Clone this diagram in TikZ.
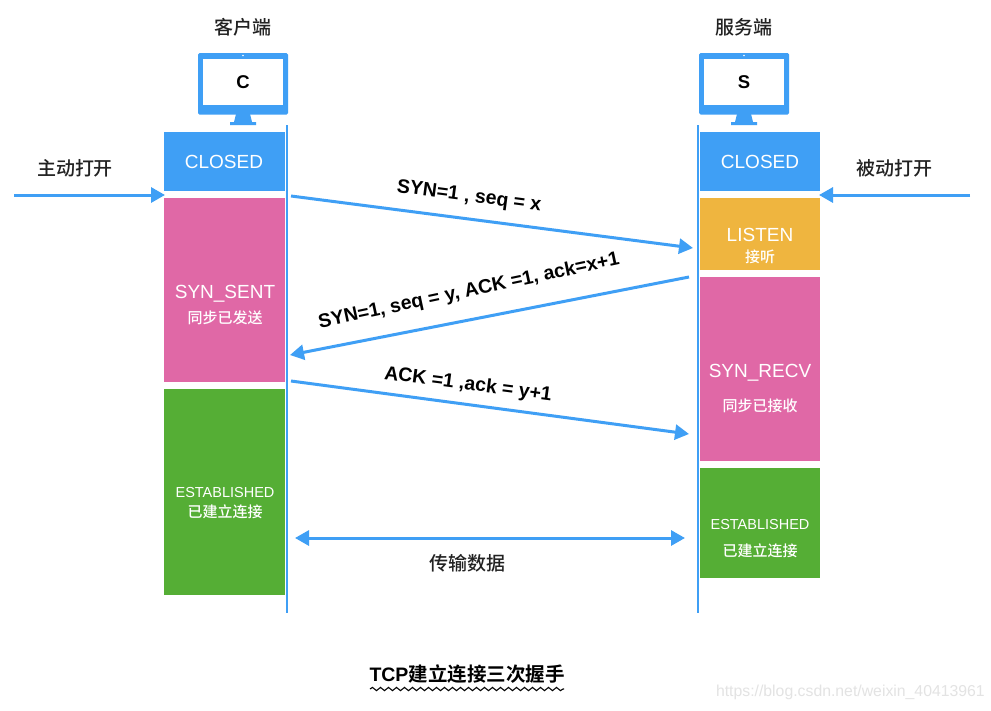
\documentclass[tikz,border=0pt]{standalone}
\usepackage{fontspec}
\setmainfont{Liberation Sans}
\newfontfamily\cjk{Noto Sans CJK SC Medium}
\newfontfamily\cjkb{Noto Sans CJK SC Bold}
\usetikzlibrary{arrows.meta,decorations.pathmorphing}
\definecolor{cblue}{HTML}{3F9FF5}
\definecolor{cpink}{HTML}{E068A6}
\definecolor{cgreen}{HTML}{55AE35}
\definecolor{cyellow}{HTML}{EFB53F}
\definecolor{ctext}{HTML}{222222}
\tikzset{
  tip/.tip={Triangle[length=14pt,width=15pt]},
  statebox/.style={fill=#1,draw=none,inner sep=0pt,text=white,align=center},
  msg/.style={draw=cblue,line width=3pt,-tip},
  life/.style={draw=cblue,line width=2.8pt},
  lab/.style={text=ctext,inner sep=0pt,font=\cjk\fontsize{19}{21}\selectfont},
  msgl/.style={text=black,inner sep=0pt,font=\bfseries\fontsize{19.5}{21}\selectfont},
  st/.style={text=white,inner sep=0pt,font=\fontsize{19}{22}\selectfont},
  sub/.style={text=white,inner sep=0pt,font=\cjk\fontsize{15}{17}\selectfont},
  est/.style={text=white,inner sep=0pt,font=\fontsize{14.5}{16}\selectfont},
}
\newcommand{\monitor}[3]{%
  \fill[cblue,rounded corners=1.5pt] (#1,53) rectangle ++(90,61.5);
  \fill[white] (#1+5,59) rectangle ++(80,45.5);
  \fill[white] (#1+45,55.5) circle (0.8pt);
  \fill[cblue] (#1+38,114) -- (#1+52,114) -- (#1+54,122) -- (#1+58,122) -- (#1+58,125) -- (#1+32,125) -- (#1+32,122) -- (#1+36,122) -- cycle;
  \node[inner sep=0pt,font=\bfseries\fontsize{18.5}{22}\selectfont] (#2) at (#1+45,82.5) {#3};}
\begin{document}
\begin{tikzpicture}[x=1pt,y=-1pt]
\useasboundingbox (0,0) rectangle (991,710);
\fill[white] (0,0) rectangle (991,710);
% headers
\node[lab] (hc) at (243,27) {客户端};
\node[lab] (hs) at (744,27) {服务端};
\monitor{198}{mc}{C}
\monitor{699}{ms}{S}
% left states
\node[statebox=cblue,minimum width=121pt,minimum height=59pt,anchor=north west] (c1) at (164,132) {};
\node[st] (c1t) at (224,162) {CLOSED};
\node[statebox=cpink,minimum width=121pt,minimum height=184pt,anchor=north west] (c2) at (164,198) {};
\node[st] (c2t) at (225,294) {SYN\_SENT};
\node[sub] (c2s) at (225,318) {同步已发送};
\node[statebox=cgreen,minimum width=121pt,minimum height=206pt,anchor=north west] (c3) at (164,389) {};
\node[est] (c3t) at (225,492.5) {ESTABLISHED};
\node[sub] (c3s) at (225,512) {已建立连接};
% right states
\node[statebox=cblue,minimum width=120pt,minimum height=59pt,anchor=north west] (s1) at (700,132) {};
\node[st] (s1t) at (760,162) {CLOSED};
\node[statebox=cyellow,minimum width=120pt,minimum height=72pt,anchor=north west] (s2) at (700,198) {};
\node[st] (s2t) at (760,235) {LISTEN};
\node[sub] (s2s) at (760,257) {接听};
\node[statebox=cpink,minimum width=120pt,minimum height=184pt,anchor=north west] (s3) at (700,277) {};
\node[st] (s3t) at (760,373) {SYN\_RECV};
\node[sub] (s3s) at (760,406) {同步已接收};
\node[statebox=cgreen,minimum width=120pt,minimum height=110pt,anchor=north west] (s4) at (700,468) {};
\node[est] (s4t) at (760,524) {ESTABLISHED};
\node[sub] (s4s) at (760,551) {已建立连接};
% lifelines
\coordinate (lt) at (287,125); \coordinate (lb) at (287,613);
\coordinate (rt) at (698,125); \coordinate (rb) at (698,613);
\draw[life] (lt) -- (lb);
\draw[life] (rt) -- (rb);
% open arrows
\coordinate (oa) at (14,195); \coordinate (oap) at (165,195);
\coordinate (ob) at (970,195); \coordinate (obp) at (819,195);
\draw[msg] (oa) -- (oap);
\draw[msg] (ob) -- (obp);
\node[lab] (la) at (75,168) {主动打开};
\node[lab] (lp) at (894,168) {被动打开};
% messages
\coordinate (m1a) at (291,196); \coordinate (m1b) at (693,248);
\coordinate (m2a) at (689,277); \coordinate (m2b) at (290,355);
\coordinate (m3a) at (291,381); \coordinate (m3b) at (689,434);
\coordinate (m4a) at (295,538); \coordinate (m4b) at (685,538);
\draw[msg] (m1a) -- (m1b);
\draw[msg] (m2a) -- (m2b);
\draw[msg] (m3a) -- (m3b);
\draw[msg,tip-tip] (m4a) -- (m4b);
\node[msgl,rotate=-7.5] (t1) at (469,197) {SYN=1 , seq = x};
\node[msgl,rotate=12] (t2) at (469,291.5) {SYN=1, seq = y, ACK =1, ack=x+1};
\node[msgl,rotate=-7.5] (t3) at (468,385) {ACK =1 ,ack = y+1};
\node[lab] (t4) at (467,563) {传输数据};
% caption
\node[text=black,inner sep=0pt,font=\cjkb\fontsize{19.5}{21}\selectfont] (cap) at (467,674) {{\bfseries\rmfamily TCP}建立连接三次握手};
\coordinate (wa) at (370,689); \coordinate (wb) at (564,689);
\draw[black,line width=1.1pt,decorate,decoration={snake,amplitude=1.6pt,segment length=8pt}] (wa) -- (wb);
\node[text=black!11,inner sep=0pt,font=\fontsize{15.8}{18}\selectfont,anchor=east] (wm) at (985,692) {https://blog.csdn.net/weixin\_40413961};
\end{tikzpicture}
\end{document}
